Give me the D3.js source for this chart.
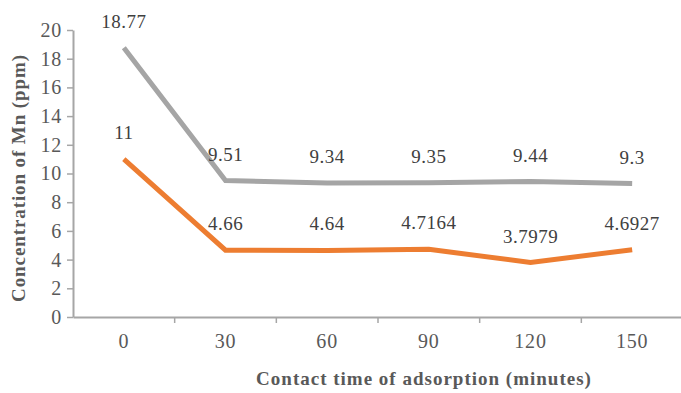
<!DOCTYPE html>
<html lang="en">
<head>
<meta charset="utf-8">
<title>Concentration of Mn vs contact time</title>
<script src="https://d3js.org/d3.v7.min.js"></script>
<style>
  body { margin: 0; background: #fff; }
</style>
</head>
<body>
<script>
// data
var times = ["0", "30", "60", "90", "120", "150"];
var greySeries = [18.77, 9.51, 9.34, 9.35, 9.44, 9.3];
var orangeSeries = [11, 4.66, 4.64, 4.7164, 3.7979, 4.6927];
var greyLabels = ["18.77", "9.51", "9.34", "9.35", "9.44", "9.3"];
var orangeLabels = ["11", "4.66", "4.64", "4.7164", "3.7979", "4.6927"];
var yTicks = [0, 2, 4, 6, 8, 10, 12, 14, 16, 18, 20];

var w = 681, h = 393;
var plotLeft = 73, plotRight = 683, plotTop = 30, plotBottom = 317;
var serif = "'Liberation Serif'";

var svg = d3.select("body").append("svg")
  .attr("width", w).attr("height", h);

var x = d3.scaleBand().domain(times).range([plotLeft, plotRight]);
var y = d3.scaleLinear().domain([0, 20]).range([plotBottom, plotTop]);

// y axis
var yAxis = svg.append("g")
  .attr("transform", "translate(" + plotLeft + ",0)")
  .call(d3.axisLeft(y).tickValues(yTicks).tickSize(6).tickSizeOuter(0).tickPadding(5));
yAxis.select(".domain").attr("stroke", "#a6a6a6").attr("stroke-width", 2);
yAxis.selectAll(".tick line").attr("stroke", "#a6a6a6").attr("stroke-width", 1.5);
yAxis.selectAll(".tick text").attr("fill", "#595959")
  .style("font-size", "20px").style("font-family", serif).style("letter-spacing", "0.8px");

// x axis
var xAxis = svg.append("g")
  .attr("transform", "translate(0," + plotBottom + ")")
  .call(d3.axisBottom(x).tickSize(0).tickPadding(17));
xAxis.select(".domain").attr("stroke", "#a6a6a6").attr("stroke-width", 2);
xAxis.selectAll(".tick text").attr("fill", "#595959")
  .style("font-size", "20px").style("font-family", serif).style("letter-spacing", "0.8px");

// tick marks between categories
svg.append("g").selectAll("line")
  .data(times.slice(1))
  .enter().append("line")
  .attr("x1", function(d) { return x(d); })
  .attr("x2", function(d) { return x(d); })
  .attr("y1", plotBottom).attr("y2", plotBottom + 6)
  .attr("stroke", "#a6a6a6").attr("stroke-width", 1.5);

var line = d3.line()
  .x(function(d, i) { return x(times[i]) + x.bandwidth() / 2; })
  .y(function(d) { return y(d); });

svg.append("path").datum(greySeries)
  .attr("d", line).attr("fill", "none")
  .attr("stroke", "#a5a5a5").attr("stroke-width", 5);

svg.append("path").datum(orangeSeries)
  .attr("d", line).attr("fill", "none")
  .attr("stroke", "#ed7d31").attr("stroke-width", 5);

function addLabels(values, labels) {
  svg.append("g").selectAll("text")
    .data(values)
    .enter().append("text")
    .attr("x", function(d, i) { return x(times[i]) + x.bandwidth() / 2; })
    .attr("y", function(d) { return y(d) - 20; })
    .attr("text-anchor", "middle")
    .attr("fill", "#404040")
    .style("font-family", serif)
    .style("font-size", "19px")
    .style("letter-spacing", "0.5px")
    .text(function(d, i) { return labels[i]; });
}
addLabels(greySeries, greyLabels);
addLabels(orangeSeries, orangeLabels);

// axis titles
svg.append("text")
  .attr("transform", "translate(25,178) rotate(-90)")
  .attr("text-anchor", "middle")
  .attr("fill", "#595959")
  .style("font-family", serif)
  .style("font-size", "19px").style("font-weight", "bold").style("letter-spacing", "0.9px")
  .text("Concentration of Mn (ppm)");

svg.append("text")
  .attr("x", 424).attr("y", 385)
  .attr("text-anchor", "middle")
  .attr("fill", "#595959")
  .style("font-family", serif)
  .style("font-size", "19px").style("font-weight", "bold").style("letter-spacing", "1px")
  .text("Contact time of adsorption (minutes)");
</script>
</body>
</html>
